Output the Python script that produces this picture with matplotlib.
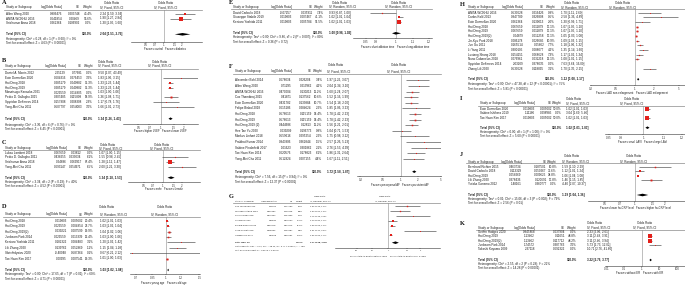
import numpy as np
import matplotlib
matplotlib.use('Agg')
import matplotlib.pyplot as plt
from matplotlib.lines import Line2D

W, H = 685, 286
plt.rcParams['font.family'] = ['Liberation Sans', 'DejaVu Sans']

# ======================= DATA =======================
# Panel A
A_study = ["Allen Wang 2020", "ANITA-WOKHLI 2016", "Sridhumar Anna 2018"]
A_logor = [0.806476, 0.641854, 0.262364]
A_se = [0.203748, 0.20469, 0.106902]
A_weight = [43.4, 56.6, 0.0]
A_or = [2.24, 1.90, 1.30]
A_lo = [1.50, 1.27, 1.05]
A_hi = [3.34, 2.84, 1.60]
A_total = [2.04, 1.51, 2.76]
A_het = "Heterogeneity: Chi² = 0.28, df = 1 (P = 0.60); I² = 0%"
A_test = "Test for overall effect: Z = 4.63 (P < 0.00001)"
A_ticks = [0.5, 0.7, 1, 1.5, 2]
A_fav = ["Favours control", "Favours diabetes"]

# Panel B
B_study = ["Daniel A. Morris 2012", "Eoin Donnellan 2020", "Hai Deng 2018", "Hai Deng 2019",
           "Masatsugu Kanaoka 2021", "Pedro D. Gallagho 2015", "Spyridon Deftereos 2014", "Yong-Mei Cha 2011"]
B_logor = [2.251292, 0.604316, 0.285179, 0.285179, 0.029559, 0.307485, 0.157908, 0.507797]
B_se = [0.776810, 0.276453, 0.040882, 0.040882, 0.014805, 0.115808, 0.208308, 0.254003]
B_weight = [0.0, 3.2, 36.3, 36.3, 0.0, 18.9, 2.3, 3.0]
B_or = [9.50, 1.83, 1.33, 1.33, 1.03, 1.36, 1.17, 1.66]
B_lo = [2.07, 1.06, 1.23, 1.23, 1.00, 1.08, 0.78, 1.01]
B_hi = [43.49, 3.15, 1.44, 1.44, 1.06, 1.71, 1.76, 2.73]
B_total = [1.34, 1.26, 1.43]
B_het = "Heterogeneity: Chi² = 3.36, df = 6 (P = 0.76); I² = 0%"
B_test = "Test for overall effect: Z = 6.45 (P < 0.00001)"
B_ticks = [0.5, 0.7, 1, 1.5, 2]
B_fav = ["Favours higher LVEF", "Favours lower LVEF"]

# Panel C
C_study = ["Lukas Lambert 2018", "Pedro D. Gallagho 2011", "Sridhumar Anna 2018", "Yong-Mei Cha 2011"]
C_logor = [0.067659, 0.438255, 0.24686, 0.693147]
C_se = [0.038120, 0.233034, 0.069917, 0.254971]
C_weight = [0.0, 6.1, 87.4, 6.5]
C_or = [1.07, 1.55, 1.28, 2.00]
C_lo = [1.00, 0.98, 1.12, 1.21]
C_hi = [1.15, 2.45, 1.47, 3.30]
C_total = [1.34, 1.18, 1.53]
C_het = "Heterogeneity: Chi² = 3.34, df = 2 (P = 0.19); I² = 40%"
C_test = "Test for overall effect: Z = 4.52 (P < 0.00001)"
C_ticks = [0.5, 0.7, 1, 1.5, 2]
C_fav = ["Favours male", "Favours female"]

# Panel D
D_study = ["Hai Deng 2018", "Hai Deng 2019", "Hai Deng 2019(2)", "Junbeom Park 2014", "Kentaro Yoshida 2011",
           "Lili Zhang 2020", "Skrivhidyaiou 2020", "Tae-Hoon Kim 2017"]
D_logor = [0.019803, 0.029559, 0.039221, 0.029559, 0.182322, 0.139762, -0.40048, 0.00995]
D_se = [0.005602, 0.004854, 0.007599, 0.013339, 0.084483, 0.052869, 0.587364, 0.007541]
D_weight = [20.4, 23.7, 19.9, 12.4, 3.1, 1.1, 0.1, 19.3]
D_or = [1.02, 1.03, 1.04, 1.03, 1.20, 1.15, 0.67, 1.01]
D_lo = [1.01, 1.02, 1.02, 1.00, 1.02, 1.04, 0.21, 1.00]
D_hi = [1.03, 1.04, 1.06, 1.06, 1.42, 1.28, 2.12, 1.03]
D_total = [1.03, 1.02, 1.04]
D_het = "Heterogeneity: Tau² = 0.00; Chi² = 17.65, df = 7 (P = 0.01); I² = 60%"
D_test = "Test for overall effect: Z = 4.71 (P < 0.00001)"
D_ticks = [0.7, 0.85, 1, 1.2, 1.5]
D_fav = ["Favours young age", "Favours old age"]

# Panel E
E_study = ["David Carballo 2018", "Giuseppe Stabile 2019", "Kentaro Yoshida 2011"]
E_logor = [-0.07257, 0.019803, 0.019803]
E_se = [0.035911, 0.007467, 0.005784]
E_weight = [7.4, 41.1, 51.5]
E_or = [0.93, 1.02, 1.02]
E_lo = [0.87, 1.01, 1.01]
E_hi = [1.00, 1.04, 1.03]
E_total = [1.00, 0.98, 1.03]
E_het = "Heterogeneity: Tau² = 0.00; Chi² = 9.86, df = 2 (P = 0.007); I² = 80%"
E_test = "Test for overall effect: Z = 0.36 (P = 0.72)"
E_ticks = [0.85, 0.9, 1, 1.1, 1.2]
E_fav = ["Favours short ablation time", "Favours long ablation time"]

# Panel F
F_study = ["Alexander Bohl 2014", "Allen Wang 2020", "ANITA-WOKHLI 2016", "Cox Thambiraj 2015",
           "Eoin Donnellan 2020", "Felipe Bisbal 2018", "Hai Deng 2018", "Hai Deng 2019", "Hai Deng 2019 (2)",
           "Hee Tae Yu 2020", "Markus Linhart 2018", "Prabhat Kumar 2014", "Sabine Pinderfeld 2017",
           "Tae-Hoon Kim 2014", "Yong-Mei Cha 2011"]
F_logor = [0.678034, 0.71295, 0.470004, 0.41871, 0.431782, 0.615186, 0.576613, 0.576613, 0.444686,
           0.039209, 0.559616, 0.943906, 1.016231, 0.620576, 0.512824]
F_se = [0.226204, 0.213962, 0.130213, 0.137562, 0.133884, 0.284624, 0.115159, 0.115159, 0.128130,
        0.196773, 0.295254, 0.362844, 0.301862, 0.178823, 0.207155]
F_weight = [3.4, 4.2, 11.2, 10.6, 10.7, 2.2, 14.4, 14.4, 11.2, 0.8, 2.2, 1.5, 2.1, 6.1, 4.4]
F_or = [1.97, 2.04, 1.60, 1.52, 1.54, 1.85, 1.78, 1.78, 1.56, 1.04, 1.75, 2.57, 2.76, 1.86, 1.67]
F_lo = [1.26, 1.34, 1.24, 1.16, 1.18, 1.06, 1.42, 1.42, 1.21, 0.71, 0.98, 1.26, 1.53, 1.31, 1.11]
F_hi = [3.07, 3.10, 2.07, 1.99, 2.00, 3.23, 2.23, 2.23, 2.01, 1.53, 3.12, 5.23, 4.99, 2.64, 2.51]
F_total = [1.72, 1.58, 1.87]
F_het = "Heterogeneity: Chi² = 7.56, df = 15 (P = 0.94); I² = 0%"
F_test = "Test for overall effect: Z = 12.37 (P < 0.00001)"
F_ticks = [0.2, 0.5, 1, 2, 5]
F_fav = ["Favours paroxysmal AF", "Favours persistent AF"]

# Panel G
G_study = ["Cox Thambiraj 2015", "Giuseppe Stabile 2019", "Jin-Kyu Park 2018", "Lili Zhang 2020",
           "Roland Richard 2012", "Sven Knecht 2018", "Yingwen Liu 2017"]
G_logor = [0.41871, 0.262364, 0.542324, 0.09531, 0.086178, 0.698135, 0.04879]
G_se = [0.137562, 0.113948, 0.187335, 0.046534, 0.031173, 0.180687, 0.016561]
G_weight = [9.7, 8.6, 3.7, 25.4, 27.2, 3.8, 28.5]
G_or = [1.52, 1.30, 1.72, 1.10, 1.09, 2.01, 1.05]
G_lo = [1.16, 1.04, 1.19, 1.00, 1.03, 1.41, 1.02]
G_hi = [1.99, 1.62, 2.48, 1.20, 1.16, 2.86, 1.09]
G_total = [1.17, 1.08, 1.26]
G_het = "Heterogeneity: Tau² = 0.01; Chi² = 28.42, df = 6 (P < 0.0001); I² = 79%"
G_test = "Test for overall effect: Z = 3.92 (P < 0.0001)"
G_ticks = [0.5, 0.7, 1, 1.5, 2]
G_fav = ["Favours total AF duration within 2 years", "Favours total AF duration over 2 years"]

# Panel H
H_study = ["ANITA-WOKHLI 2016", "Carlos Kalil 2013", "Eoin Donnellan 2020", "Hai Deng 2018", "Hai Deng 2019",
           "Hai Deng 2019(2)", "Jin-Kyu Park 2018", "Jun Gu 2011", "Li Yang 2011", "Luxiang Shang 2018",
           "Nuno Cabanelas 2018", "Spyridon Deftereos 2014", "Zhang Lili 2020"]
H_logor = [0.530628, 0.947789, 0.262364, 0.067659, 0.067659, 0.04879, 0.086178, 0.165514, 0.300105,
           0.154151, 0.076961, 2.032088, 0.530628]
H_se = [0.216426, 0.326808, 0.139013, 0.011879, 0.011879, 0.012258, 0.026685, 0.05662, 0.088077,
        0.068628, 0.032218, 0.378035, 0.118895]
H_weight = [0.9, 0.5, 2.0, 17.1, 17.1, 17.1, 10.9, 7.7, 4.2, 7.3, 12.1, 0.0, 3.1]
H_or = [1.70, 2.58, 1.30, 1.07, 1.07, 1.05, 1.09, 1.18, 1.35, 1.17, 1.08, 7.63, 1.70]
H_lo = [1.11, 1.36, 0.99, 1.05, 1.05, 1.03, 1.03, 1.06, 1.14, 1.02, 1.01, 3.64, 1.35]
H_hi = [2.60, 4.89, 1.71, 1.10, 1.10, 1.08, 1.15, 1.32, 1.60, 1.34, 1.15, 16.00, 2.15]
H_total = [1.12, 1.08, 1.17]
H_het = "Heterogeneity: Tau² = 0.00; Chi² = 47.38, df = 12 (P < 0.00001); I² = 75%"
H_test = "Test for overall effect: Z = 5.81 (P < 0.00001)"
H_ticks = [0.2, 0.5, 1, 2, 5]
H_fav = ["Favours LAD non-enlargement", "Favours LAD enlargement"]

# Panel I
I_study = ["Eoin Donnellan 2020", "Sabine Ishihara 2019", "Tae-Hoon Kim 2017"]
I_logor = [0.019803, 1.111858, 0.019803]
I_se = [0.005002, 0.298985, 0.005002]
I_weight = [50.0, 0.0, 50.0]
I_or = [1.02, 3.04, 1.02]
I_lo = [1.01, 1.69, 1.01]
I_hi = [1.03, 5.46, 1.03]
I_total = [1.02, 1.01, 1.03]
I_het = "Heterogeneity: Chi² = 0.00, df = 1 (P = 1.00); I² = 0%"
I_test = "Test for overall effect: Z = 5.60 (P < 0.00001)"
I_ticks = [0.85, 0.9, 1, 1.1, 1.2]
I_fav = ["Favours small LAVI", "Favours large LAVI"]

# Panel J
J_study = ["Bernhard Richter 2015", "David Carballo 2018", "Hai Deng 2019", "Lili Zhang 2020", "Yutaka Gonemo 2012"]
J_logor = [0.463734, 0.113329, 0.058269, 0.378436, 1.481605]
J_se = [0.187501, 0.050267, 0.009625, 0.120691, 0.360777]
J_weight = [10.8, 32.6, 38.8, 17.8, 0.0]
J_or = [1.59, 1.12, 1.06, 1.46, 4.40]
J_lo = [1.10, 1.01, 1.04, 1.15, 2.07]
J_hi = [2.29, 1.24, 1.08, 1.85, 10.37]
J_total = [1.19, 1.04, 1.36]
J_het = "Heterogeneity: Tau² = 0.01; Chi² = 15.06, df = 3 (P = 0.002); I² = 79%"
J_test = "Test for overall effect: Z = 2.56 (P = 0.01)"
J_ticks = [0.5, 0.7, 1, 1.5, 2]
J_fav = ["Favours lower hs-CRP level", "Favours higher hs-CRP level"]

# Panel K
K_study = ["Gethin Hodges 2020", "Hai Deng 2019", "Hai Deng 2019(2)", "Junbeom Park 2014", "Takashi Koyama 2009"]
K_logor = [0.845868, 1.134623, 1.134623, 1.745716, 2.371178]
K_se = [0.037904, 0.11651, 0.117712, 0.387763, 0.692322]
K_weight = [0.0, 48.8, 48.2, 3.0, 0.0]
K_or = [2.33, 3.11, 3.11, 5.73, 10.71]
K_lo = [2.06, 2.48, 2.46, 2.73, 2.76]
K_hi = [2.61, 3.91, 3.94, 12.02, 41.60]
K_total = [3.22, 2.76, 3.77]
K_het = "Heterogeneity: Chi² = 2.55, df = 2 (P = 0.28); I² = 22%"
K_test = "Test for overall effect: Z = 14.28 (P < 0.00001)"
K_ticks = [0.01, 0.1, 1, 10, 100]
K_fav = ["Favours without ER", "Favours with ER"]

# ======================= LAYOUT =======================
RED = '#e3201b'
TXT = '#1e1e1e'

fig = plt.figure(figsize=(W / 100, H / 100), dpi=100)


def fx(x):
    return x / W


def fy(y):
    return 1 - y / H


def put(x, y, s, ha='left', size=2.15, weight='normal'):
    fig.text(fx(x), fy(y), s, ha=ha, va='center', fontsize=size, fontweight=weight, color=TXT)


def tick_label(v):
    return ('%g' % v)


def panel(letter, study, logor, se, weight, orr, lo, hi, total, het, test, ticks, fav, method, L):
    fs = L.get('fs', 2.15)
    # letter
    fig.text(fx(L['lab'][0]), fy(L['lab'][1]), letter, fontsize=4.6, fontweight='bold',
             family='Liberation Serif', va='center', ha='left', color='#111')
    # headers
    put(L['hc'], L['h1'], "Odds Ratio", ha='center', size=fs)
    put(L['pc'], L['h1'], "Odds Ratio", ha='center', size=fs)
    put(L['sx'], L['h2'], "Study or Subgroup", size=fs)
    put(L['lr'], L['h2'], "log[Odds Ratio]", ha='right', size=fs)
    put(L['ser'], L['h2'], "SE", ha='right', size=fs)
    put(L['wr'], L['h2'], "Weight", ha='right', size=fs)
    put(L['cl'], L['h2'], method, size=fs)
    put(L['pc'], L['h2'], method, ha='center', size=fs)
    fig.add_artist(Line2D([fx(L['sx'] - 2), fx(L['x1'])], [fy(L['hl'])] * 2, transform=fig.transFigure,
                          color='#8a8a8a', lw=0.5))
    n = len(study)
    for i in range(n):
        y = L['r0'] + i * L['dy']
        put(L['sx'], y, study[i], size=fs)
        put(L['lr'], y, '%g' % logor[i], ha='right', size=fs)
        put(L['ser'], y, '%g' % se[i], ha='right', size=fs)
        put(L['wr'], y, '%.1f%%' % weight[i], ha='right', size=fs)
        put(L['cl'], y, '%.2f [%.2f, %.2f]' % (orr[i], lo[i], hi[i]), size=fs)
    put(L['sx'], L['ty'], "Total (95% CI)", size=fs, weight='bold')
    put(L['wr'], L['ty'], "100.0%", ha='right', size=fs, weight='bold')
    put(L['cl'], L['ty'], '%.2f [%.2f, %.2f]' % tuple(total), size=fs, weight='bold')
    put(L['sx'], L['het'], het, size=fs)
    put(L['sx'], L['tst'], test, size=fs)

    # forest plot axes
    x0, x1, c, s = L['x0'], L['x1'], L['c'], L['s']
    top, bot = L['hl'], L['ax']
    ax = fig.add_axes([fx(x0), fy(bot), (x1 - x0) / W, (bot - top) / H])
    ax.set_xscale('log')
    ax.set_xlim(np.exp((x0 - c) / s), np.exp((x1 - c) / s))
    ax.set_ylim((bot - L['r0']) / L['dy'], (top - L['r0']) / L['dy'])
    ax.patch.set_alpha(0)
    for sp in ['top', 'left', 'right']:
        ax.spines[sp].set_visible(False)
    ax.spines['bottom'].set_linewidth(0.4)
    ax.spines['bottom'].set_color('#333')
    ax.set_yticks([])
    ax.set_xticks(ticks)
    ax.set_xticklabels([tick_label(t) for t in ticks])
    ax.xaxis.set_minor_locator(matplotlib.ticker.NullLocator())
    ax.tick_params(axis='x', length=0.9, width=0.35, pad=0.3, labelsize=fs * 0.95, colors='#333')
    ax.axvline(1, color='#9a9a9a', lw=0.45, zorder=1)
    rows = np.arange(n)
    for i in rows:
        if weight[i] <= 0:
            continue
        ax.hlines(i, lo[i], hi[i], color='#4a4a4a', lw=0.45, zorder=2)
        ms = max(0.6, 0.32 * np.sqrt(weight[i]))
        ax.plot(orr[i], i, 's', ms=ms, color=RED, mew=0, zorder=3)
    t = (L['ty'] - L['r0']) / L['dy']
    h = 1.3 / L['dy']
    ax.fill([total[1], total[0], total[2], total[0]], [t, t - h, t, t + h], color='black', lw=0, zorder=3)
    put(c - 1.2, L['fav'], fav[0], ha='right', size=fs * 0.92)
    put(c + 1.2, L['fav'], fav[1], ha='left', size=fs * 0.92)


LA = dict(lab=(2, 3), h1=3.3, h2=7.3, hl=9.5, r0=13.8, dy=4.7, ty=34.3, het=38.7, tst=43.0, ax=41.7, fav=48.5,
          sx=6, lr=62, ser=80, wr=92, cl=100, hc=112, pc=166, x0=131, x1=202, c=164, s=26.0)
LB = dict(lab=(2, 61), h1=62, h2=66, hl=68.7, r0=72.7, dy=4.95, ty=118.7, het=125, tst=129.3, ax=124.3, fav=131.3,
          sx=5, lr=66, ser=82, wr=93, cl=98, hc=106, pc=160, x0=123, x1=198, c=161, s=32.5)
LC = dict(lab=(2, 143), h1=145, h2=148.3, hl=150.2, r0=152.6, dy=4.85, ty=177.7, het=181.7, tst=185.7, ax=182.0,
          fav=189.3, sx=5, lr=66.7, ser=81.7, wr=93.3, cl=99, hc=108, pc=162, x0=128, x1=200, c=163, s=27.4)
LD = dict(lab=(2, 207), h1=207.3, h2=214.5, hl=216.7, r0=220.7, dy=5.4, ty=270, het=274.3, tst=278.7, ax=274.3,
          fav=282.7, sx=5, lr=66.7, ser=83.3, wr=93.3, cl=100, hc=107, pc=165, x0=130, x1=200, c=165.7, s=83.0)
LE = dict(lab=(229, 3), h1=2.7, h2=6.7, hl=9.0, r0=12.7, dy=4.7, ty=33.3, het=37.3, tst=41.7, ax=38.3, fav=46.7,
          sx=233, lr=291.7, ser=312.7, wr=323.3, cl=329.3, hc=340, pc=399, x0=353, x1=432, c=395.7, s=184.0)
LF = dict(lab=(229, 66), h1=64.8, h2=71.2, hl=73.8, r0=80.4, dy=5.6, ty=171.7, het=177, tst=182, ax=176.3, fav=185,
          sx=235, lr=291.7, ser=311.7, wr=322.3, cl=326.7, hc=336, pc=399, x0=357, x1=441, c=400.7, s=25.0)
LG = dict(lab=(229, 196), h1=196, h2=201, hl=203.3, r0=206.3, dy=4.85, ty=242.7, het=246.7, tst=250.3, ax=248.3,
          fav=256, sx=235, lr=276.7, ser=293.3, wr=303.3, cl=310, hc=320, pc=385, x0=335, x1=440, c=388.3, s=45.7,
          fs=1.65)
LH = dict(lab=(460, 4), h1=3.3, h2=7.3, hl=9.3, r0=12.7, dy=4.67, ty=79.3, het=84.3, tst=88.7, ax=85, fav=92.7,
          sx=468.3, lr=523.3, ser=544.3, wr=555, cl=561, hc=571.7, pc=623, x0=590, x1=685, c=635, s=27.4)
LI = dict(lab=(460, 98.3), h1=99, h2=103.3, hl=106, r0=109, dy=4.35, ty=127.7, het=131.7, tst=136, ax=134,
          fav=141.7, sx=480, lr=535, ser=552.3, wr=561.7, cl=566, hc=573.3, pc=631.7, x0=605, x1=685, c=643.3, s=210.0)
LJ = dict(lab=(460, 155), h1=156, h2=161.7, hl=163.3, r0=166.7, dy=4.4, ty=195, het=199.3, tst=203.3, ax=200.7,
          fav=208, sx=468.3, lr=521.7, ser=546.7, wr=556.7, cl=562.3, hc=571.7, pc=633.3, x0=588, x1=685, c=635, s=43.3)
LK = dict(lab=(460, 223.3), h1=223.3, h2=227.7, hl=229.5, r0=232, dy=4.35, ty=260, het=264.3, tst=268.3, ax=265.7,
          fav=273.3, sx=478.3, lr=535, ser=565, wr=576.7, cl=586.7, hc=595, pc=645, x0=605, x1=685, c=641.7, s=7.6)

FX = "IV, Fixed, 95% CI"
RD = "IV, Random, 95% CI"
panel('A', A_study, A_logor, A_se, A_weight, A_or, A_lo, A_hi, A_total, A_het, A_test, A_ticks, A_fav, FX, LA)
panel('B', B_study, B_logor, B_se, B_weight, B_or, B_lo, B_hi, B_total, B_het, B_test, B_ticks, B_fav, FX, LB)
panel('C', C_study, C_logor, C_se, C_weight, C_or, C_lo, C_hi, C_total, C_het, C_test, C_ticks, C_fav, FX, LC)
panel('D', D_study, D_logor, D_se, D_weight, D_or, D_lo, D_hi, D_total, D_het, D_test, D_ticks, D_fav, RD, LD)
panel('E', E_study, E_logor, E_se, E_weight, E_or, E_lo, E_hi, E_total, E_het, E_test, E_ticks, E_fav, RD, LE)
panel('F', F_study, F_logor, F_se, F_weight, F_or, F_lo, F_hi, F_total, F_het, F_test, F_ticks, F_fav, FX, LF)
panel('G', G_study, G_logor, G_se, G_weight, G_or, G_lo, G_hi, G_total, G_het, G_test, G_ticks, G_fav, RD, LG)
panel('H', H_study, H_logor, H_se, H_weight, H_or, H_lo, H_hi, H_total, H_het, H_test, H_ticks, H_fav, RD, LH)
panel('I', I_study, I_logor, I_se, I_weight, I_or, I_lo, I_hi, I_total, I_het, I_test, I_ticks, I_fav, FX, LI)
panel('J', J_study, J_logor, J_se, J_weight, J_or, J_lo, J_hi, J_total, J_het, J_test, J_ticks, J_fav, RD, LJ)
panel('K', K_study, K_logor, K_se, K_weight, K_or, K_lo, K_hi, K_total, K_het, K_test, K_ticks, K_fav, FX, LK)

fig.savefig('out.png', dpi=100, facecolor='white')
